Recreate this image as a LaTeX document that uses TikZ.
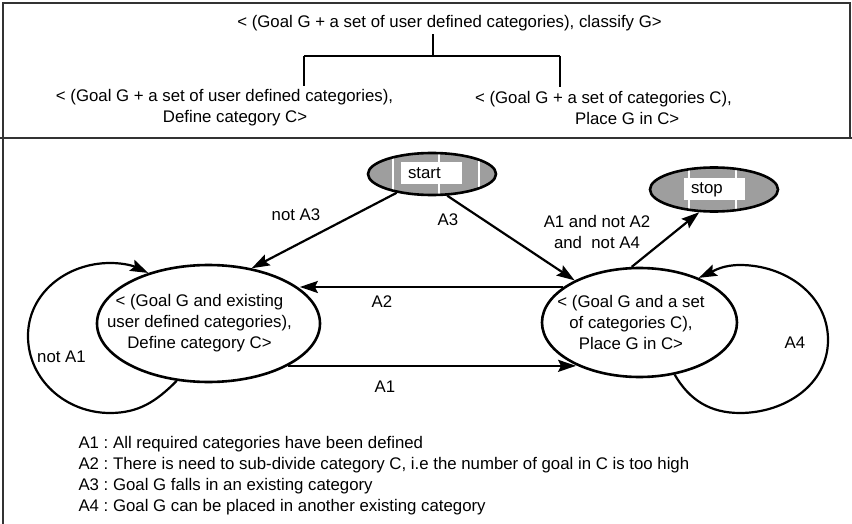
\documentclass[tikz,border=0pt]{standalone}
\usepackage{fontspec}
\setmainfont{Liberation Sans}
\usepackage{tikz}
\usetikzlibrary{shapes.geometric,arrows.meta,positioning}
\frenchspacing

\begin{document}
\begin{tikzpicture}[x=1pt,y=1pt,
   font=\fontsize{16.8pt}{21pt}\selectfont,
   frame/.style={line width=2.6pt,black!80},
   trans/.style={-{Stealth[length=18pt,width=12pt,inset=3pt]},line width=2.2pt},
   goal state/.style={ellipse,draw,line width=2.6pt,inner sep=0pt},
   end state/.style={ellipse,draw,line width=2.6pt,fill=black!38,minimum width=128pt,inner sep=0pt},
   tag/.style={fill=white,inner sep=0pt,minimum width=61pt,minimum height=22pt,text width=46pt,align=left}]

  \useasboundingbox (0,0) rectangle (852,-524);

  % frame
  \draw[frame] (3,-138) -- (3,-3) -- (850,-3) -- (850,-138);
  \draw[frame] (0,-138) -- (852,-138);
  \draw[frame] (3,-138) -- (3,-524);

  % decomposition
  \node (cls) at (449.5,-23) {< (Goal G + a set of user defined categories), classify G>};
  \node[align=left] (def) at (224.5,-107.5) {< (Goal G + a set of user defined categories),\\\hspace*{107pt}Define category C>};
  \node[align=left] (plc) at (603.5,-107.5) {< (Goal G + a set of categories C),\\\hspace*{100pt}Place G in C>};
  \coordinate (fork) at (433,-56);
  \coordinate (forkl) at (304,-56);
  \coordinate (forkr) at (560,-56);
  \draw[line width=2.4pt] (cls.south -| fork) -- (fork) (forkl) -- (forkr)
    (forkl) -- (forkl |- def.north) (forkr) -- (forkr |- plc.north);

  % states
  \node[end state,minimum height=42pt] (start) at (432,-174) {};
  \node[end state,minimum height=44pt] (stop) at (714,-189.5) {};
  \begin{scope}
    \clip (start.center) ellipse (62pt and 19.5pt);
    \foreach \dx in {-39,7,47}
      \draw[white,line width=1.4pt] ([xshift=\dx pt]start.north) -- ([xshift=\dx pt]start.south);
  \end{scope}
  \begin{scope}
    \clip (stop.center) ellipse (62pt and 20.5pt);
    \foreach \dx in {-25,22}
      \draw[white,line width=1.4pt] ([xshift=\dx pt]stop.north) -- ([xshift=\dx pt]stop.south);
  \end{scope}
  \node[tag] (startlbl) at (431,-173) {start};
  \node[tag] (stoplbl) at (714,-189.5) {stop};

  \node[goal state,minimum width=223pt,minimum height=117pt,
    label={[align=center,xshift=-9pt]center:< (Goal G and existing\\user defined categories),\\Define category C>}] (L) at (208.5,-323.5) {};
  \node[goal state,minimum width=195pt,minimum height=109pt,
    label={[align=center,xshift=-8.5pt]center:< (Goal G and a set\\of categories C),\\Place G in C>}] (R) at (639.5,-322.5) {};

  % transitions
  \foreach \from/\to in {start.208/L.52,start.305/R.147,R.98/stop.237}
    \draw[trans] (\from) -- (\to);
  \draw[trans] (R.155) -- (L.21 |- R.155);
  \draw[trans] (L.332) -- (R.214 |- L.332);
  \draw[trans] (L.241) to[out=225,in=0] (110,-413) to[out=180,in=270] (28,-336)
    to[out=90,in=180] (110,-263) to[out=0,in=155] (L.140);
  \draw[trans] (R.304) to[out=-60,in=180] (740,-413) to[out=0,in=270] (828,-340)
    to[out=90,in=0] (740,-265) to[out=180,in=25] (R.37);

  \node (nA3) at (296,-215) {not A3};
  \node (pA3) at (448,-220) {A3};
  \node[align=center] (stp) at (597,-232) {A1 and not A2\\and\ \ not A4};
  \node (pA2) at (382,-302) {A2};
  \node (pA1) at (385,-387) {A1};
  \node (nA1) at (61.5,-357) {not A1};
  \node (pA4) at (795,-343) {A4};

  % legend
  \node[anchor=base west] (a1) at (75,-448) {A1 : All required categories have been defined};
  \node[below=21.3pt of a1.base west,anchor=base west] (a2) {A2 : There is need to sub-divide category C, i.e the number of goal in C is too high};
  \node[below=21.3pt of a2.base west,anchor=base west] (a3) {A3 : Goal G falls in an existing category};
  \node[below=21.3pt of a3.base west,anchor=base west] (a4) {A4 : Goal G can be placed in another existing category};
\end{tikzpicture}
\end{document}
